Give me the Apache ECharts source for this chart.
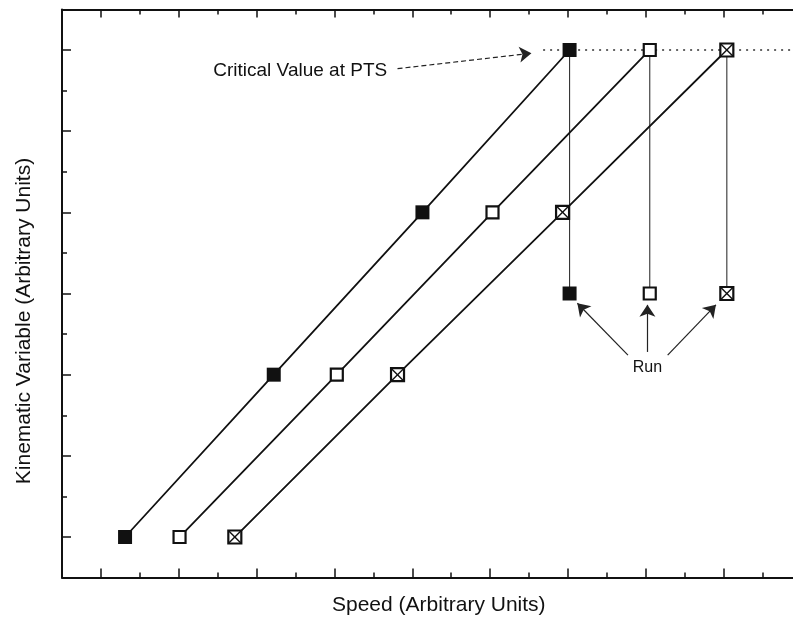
<!DOCTYPE html>
<html>
<head>
<meta charset="utf-8">
<title>Kinematic Variable vs Speed</title>
<script src="https://cdn.jsdelivr.net/npm/echarts@6/dist/echarts.min.js"></script>
<style>
  html, body { margin: 0; padding: 0; background: #ffffff; }
  #chart { width: 793px; height: 619px; }
</style>
</head>
<body>
<div id="chart"></div>
<script>
// Tick positions (value units)
const xMajorTicks = [1, 2, 3, 4, 5, 6, 7, 8, 9];
const xMinorTicks = [1.5, 2.5, 3.5, 4.5, 5.5, 6.5, 7.5, 8.5, 9.5];
const yMajorTicks = [0, 1, 2, 3, 4, 5, 6];
const yMinorTicks = [0.5, 1.5, 2.5, 3.5, 4.5, 5.5];

// Kinematic variable levels shared by the three runs
const levels = [0, 2, 4, 6];
// Speeds for each run at those levels
const filledSpeeds = [1.31, 3.22, 5.13, 7.02];
const openSpeeds = [2.01, 4.03, 6.03, 8.05];
const crossedSpeeds = [2.72, 4.81, 6.93, 9.04];

// Critical value reached at PTS, and the level where run markers sit
const criticalLevel = 6;
const criticalStart = 6.68;
const runLevel = 3;

// Annotation arrows: [start, tip] in value units
const criticalArrow = [[4.81, 5.77], [6.53, 5.96]];
const runArrows = [
  [[7.77, 2.24], [7.12, 2.88]],
  [[8.02, 2.28], [8.02, 2.86]],
  [[8.28, 2.24], [8.90, 2.86]]
];
const criticalLabelPos = [3.56, 5.75];
const runLabelPos = [8.02, 2.09];

const INK = '#111';
const FONT = '"Liberation Sans", Arial, Helvetica, sans-serif';
// Visible window of the axes (the plot runs off the right edge)
const X_MIN = 0.5, X_MAX = 9.89, Y_MIN = -0.5, Y_MAX = 6.5;

const chart = echarts.init(document.getElementById('chart'));

function pairs(speeds) {
  return speeds.map((s, i) => [s, levels[i]]);
}
function lastOf(a) { return a[a.length - 1]; }

function xAxisDef(position, ticks, len, showLine) {
  return {
    type: 'value', position: position, min: X_MIN, max: X_MAX,
    axisLine: { show: showLine, onZero: false, lineStyle: { color: INK, width: 2 } },
    axisTick: { show: true, inside: true, length: len, customValues: ticks,
                lineStyle: { color: INK, width: 1.5 } },
    axisLabel: { show: false },
    splitLine: { show: false }
  };
}
function yAxisDef(ticks, len, showLine) {
  return {
    type: 'value', position: 'left', min: Y_MIN, max: Y_MAX,
    axisLine: { show: showLine, onZero: false, lineStyle: { color: INK, width: 2 } },
    axisTick: { show: true, inside: true, length: len, customValues: ticks,
                lineStyle: { color: INK, width: 1.5 } },
    axisLabel: { show: false },
    splitLine: { show: false }
  };
}

// Square marker with an X through it
function crossedSquare(params, api) {
  const p = api.coord([api.value(0), api.value(1)]);
  const h = 6.5;
  return {
    type: 'group',
    children: [
      { type: 'rect', shape: { x: p[0] - h, y: p[1] - h, width: 2 * h, height: 2 * h },
        style: { fill: '#fff', stroke: INK, lineWidth: 2.2 } },
      { type: 'line', shape: { x1: p[0] - h, y1: p[1] - h, x2: p[0] + h, y2: p[1] + h },
        style: { stroke: INK, lineWidth: 1.4 } },
      { type: 'line', shape: { x1: p[0] + h, y1: p[1] - h, x2: p[0] - h, y2: p[1] + h },
        style: { stroke: INK, lineWidth: 1.4 } }
    ]
  };
}

const series = [];

// Dotted line marking the critical value
series.push({
  type: 'line', silent: true, symbol: 'none', z: 1,
  data: [[criticalStart, criticalLevel], [X_MAX, criticalLevel]],
  lineStyle: { color: '#333', width: 1.5, type: [2, 5] }
});

// Drops from the critical point down to each run marker
[filledSpeeds, openSpeeds, crossedSpeeds].forEach(sp => {
  series.push({
    type: 'line', silent: true, symbol: 'none', z: 1,
    data: [[lastOf(sp), criticalLevel], [lastOf(sp), runLevel]],
    lineStyle: { color: '#333', width: 1.1 }
  });
});

// Filled squares run
series.push({
  type: 'line', silent: true, z: 3, data: pairs(filledSpeeds),
  symbol: 'rect', symbolSize: 14, showAllSymbol: true,
  lineStyle: { color: INK, width: 1.8 },
  itemStyle: { color: INK, borderColor: INK, borderWidth: 0, opacity: 1 }
});
// Open squares run
series.push({
  type: 'line', silent: true, z: 3, data: pairs(openSpeeds),
  symbol: 'rect', symbolSize: 12, showAllSymbol: true,
  lineStyle: { color: INK, width: 1.8 },
  itemStyle: { color: '#fff', borderColor: INK, borderWidth: 2.2, opacity: 1 }
});
// Crossed squares run: connecting line
series.push({
  type: 'line', silent: true, z: 2, data: pairs(crossedSpeeds),
  symbol: 'none', lineStyle: { color: INK, width: 1.8 }
});

// Run markers at the lower level
series.push({
  type: 'scatter', silent: true, z: 4, symbol: 'rect', symbolSize: 14,
  data: [[lastOf(filledSpeeds), runLevel]],
  itemStyle: { color: INK, opacity: 1 }
});
series.push({
  type: 'scatter', silent: true, z: 4, symbol: 'rect', symbolSize: 12,
  data: [[lastOf(openSpeeds), runLevel]],
  itemStyle: { color: '#fff', borderColor: INK, borderWidth: 2.2, opacity: 1 }
});
// Crossed markers (curve points plus run marker)
series.push({
  type: 'custom', silent: true, z: 4, renderItem: crossedSquare,
  data: pairs(crossedSpeeds).concat([[lastOf(crossedSpeeds), runLevel]])
});

// Annotation arrows and labels
series.push({
  type: 'scatter', silent: true, z: 5, symbolSize: 0,
  itemStyle: { opacity: 1 },
  data: [
    { value: criticalLabelPos, name: 'Critical Value at PTS',
      label: { fontSize: 19 } },
    { value: runLabelPos, name: 'Run', label: { fontSize: 16 } }
  ],
  label: { show: true, position: 'inside', formatter: '{b}', color: INK,
           fontFamily: FONT, opacity: 1 },
  markLine: {
    silent: true, animation: false,
    symbol: ['none', 'arrow'], symbolSize: 12,
    label: { show: false },
    lineStyle: { color: '#222', width: 1.2, type: 'solid', opacity: 1 },
    itemStyle: { color: '#111' },
    data: [
      [{ coord: criticalArrow[0], lineStyle: { type: [5, 3] } }, { coord: criticalArrow[1] }]
    ].concat(runArrows.map(a => [{ coord: a[0] }, { coord: a[1] }]))
  }
});

chart.setOption({
  animation: false,
  backgroundColor: '#ffffff',
  grid: { left: 62, right: 0, top: 9.4, bottom: 41.4, containLabel: false },
  xAxis: [
    xAxisDef('bottom', xMajorTicks, 9, true),
    xAxisDef('bottom', xMinorTicks, 5, false),
    xAxisDef('top', xMajorTicks, 8, true),
    xAxisDef('top', xMinorTicks, 5, false)
  ],
  yAxis: [
    yAxisDef(yMajorTicks, 9, true),
    yAxisDef(yMinorTicks, 5, false)
  ],
  series: series,
  graphic: [
    { type: 'text', left: 332, top: 595,
      style: { text: 'Speed (Arbitrary Units)', font: '21px ' + FONT, fill: INK } },
    { type: 'text', x: 24, y: 321, rotation: Math.PI / 2,
      style: { text: 'Kinematic Variable (Arbitrary Units)', font: '21px ' + FONT, fill: INK,
               align: 'center', verticalAlign: 'middle' } }
  ]
});
</script>
</body>
</html>
